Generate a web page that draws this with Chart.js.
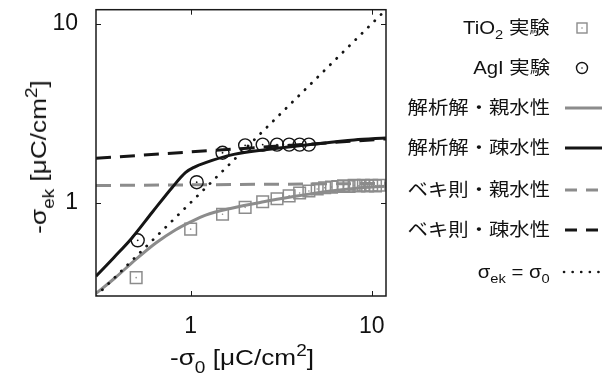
<!DOCTYPE html>
<html>
<head>
<meta charset="utf-8">
<script src="https://cdn.jsdelivr.net/npm/chart.js@4.4.0/dist/chart.umd.min.js"></script>
<style>
body { margin: 0; background: #fff; }
#wrap { position: relative; width: 609px; height: 383px; overflow: hidden;
  font-family: "Liberation Sans", Arial, "Noto Sans CJK JP", sans-serif; color: #111; }
#chart { position: absolute; left: 0; top: 0; }
.ttl { position: absolute; font-size: 22px; line-height: 22px; white-space: nowrap; }
.sb { font-size: 16px; position: relative; top: 8px; }
.sp { font-size: 16px; position: relative; top: -9px; }
.leg { position: absolute; right: 59px; font-size: 18px; line-height: 24px; white-space: nowrap;
  transform: scaleX(1.13); transform-origin: right center; }
.leg .sb { font-size: 13px; top: 5px; }
.sym { position: absolute; left: 560px; }
</style>
</head>
<body>
<div id="wrap">
  <canvas id="chart" width="609" height="383"></canvas>
  <div class="ttl" id="xtitle" style="left:242px; top:347px; transform: translateX(-50%) scaleX(1.19);">-σ<span class="sb">0</span> [μC/cm<span class="sp">2</span>]</div>
  <div class="ttl" id="ytitle" style="left:40px; top:157px; transform: translate(-50%, -50%) rotate(-90deg) scaleX(1.19);">-σ<span class="sb">ek</span> [μC/cm<span class="sp">2</span>]</div>
  <div id="legend"></div>
</div>
<script>
// ---- datos ----
var tickValues = [1, 10];

// TiO2 実験 (cuadrados)
var tio2X = [0.5, 1, 1.5, 2, 2.5, 3, 3.5, 4, 4.5, 5, 5.5, 6, 6.5, 7, 7.5, 8, 8.5, 9, 9.5, 10, 10.5, 11];
var tio2Y = [0.38, 0.71, 0.86, 0.94, 1.01, 1.05, 1.09, 1.13, 1.16, 1.19, 1.21, 1.22, 1.23, 1.24, 1.23, 1.25, 1.24, 1.25, 1.24, 1.25, 1.24, 1.25];

// AgI 実験 (círculos)
var agiX = [0.51, 1.08, 1.5, 2.0, 2.5, 3.0, 3.5, 4.0, 4.5];
var agiY = [0.615, 1.30, 1.90, 2.09, 2.11, 2.11, 2.11, 2.11, 2.11];

// 解析解・親水性
var anaPhilX = [0.3, 0.386, 0.498, 0.642, 0.827, 1.0, 1.21, 1.66, 2.53, 3.7, 5.5, 8, 12];
var anaPhilY = [0.31, 0.382, 0.481, 0.594, 0.705, 0.78, 0.851, 0.927, 1.01, 1.08, 1.15, 1.20, 1.235];

// 解析解・疎水性
var anaPhobX = [0.3, 0.377, 0.474, 0.615, 0.793, 0.939, 1.05, 1.21, 1.73, 2.64, 4.57, 8, 12];
var anaPhobY = [0.387, 0.493, 0.634, 0.885, 1.219, 1.474, 1.58, 1.674, 1.86, 1.98, 2.11, 2.24, 2.30];

// ベキ則
var powPhilX = [0.3, 12];
var powPhilY = [1.245, 1.28];
var powPhobX = [0.3, 12];
var powPhobY = [1.77, 2.27];

// σek = σ0
var diagX = [0.3, 12];
var diagY = [0.3, 12];

var legendLabels = [
    'TiO<span class="sb">2</span> 実験',
    'AgI 実験',
    '解析解・親水性',
    '解析解・疎水性',
    'ベキ則・親水性',
    'ベキ則・疎水性',
    'σ<span class="sb">ek</span> = σ<span class="sb">0</span>'
];
var legendRowsY = [28, 68, 108, 148, 190, 230, 272];

var GRAY = '#8c8c8c';
var BLACK = '#151515';

function toPoints(xs, ys) {
    return xs.map(function(x, i) { return {x: x, y: ys[i]}; });
}

// ---- leyenda en HTML ----
function buildLegend() {
    var box = document.getElementById('legend');
    var html = '';
    legendLabels.forEach(function(lbl, i) {
        html += '<div class="leg" style="top:' + (legendRowsY[i] - 12) + 'px">' + lbl + '</div>';
    });
    var y;
    // símbolos
    y = legendRowsY[0];
    html += '<svg class="sym" style="top:' + (y - 10) + 'px" width="44" height="20">' +
        '<rect x="17" y="5" width="10" height="10" fill="none" stroke="' + GRAY + '" stroke-width="1.4"/>' +
        '<circle cx="22" cy="10" r="0.8" fill="' + GRAY + '"/></svg>';
    y = legendRowsY[1];
    html += '<svg class="sym" style="top:' + (y - 10) + 'px" width="44" height="20">' +
        '<circle cx="22" cy="10" r="5.5" fill="none" stroke="' + BLACK + '" stroke-width="1.4"/>' +
        '<circle cx="22" cy="10" r="0.8" fill="' + BLACK + '"/></svg>';
    var lineSyms = [
        {row: 2, color: GRAY, dash: ''},
        {row: 3, color: BLACK, dash: ''},
        {row: 4, color: GRAY, dash: '12 9'},
        {row: 5, color: BLACK, dash: '12 9'}
    ];
    lineSyms.forEach(function(s) {
        y = legendRowsY[s.row];
        html += '<svg class="sym" style="top:' + (y - 10) + 'px" width="44" height="20">' +
            '<line x1="5" y1="10" x2="42" y2="10" stroke="' + s.color + '" stroke-width="3"' +
            (s.dash ? ' stroke-dasharray="' + s.dash + '"' : '') + '/></svg>';
    });
    y = legendRowsY[6];
    html += '<svg class="sym" style="top:' + (y - 10) + 'px" width="44" height="20">' +
        '<line x1="4" y1="10" x2="42" y2="10" stroke="' + BLACK + '" stroke-width="2.6" stroke-linecap="round" stroke-dasharray="0.1 8.5"/></svg>';
    box.innerHTML = html;
}

// marco y marcas interiores (estilo MATLAB)
var framePlugin = {
    id: 'frame',
    afterDatasetsDraw: function(chart) {
        var ctx = chart.ctx, a = chart.chartArea;
        var xs = chart.scales.x, ys = chart.scales.y;
        ctx.save();
        ctx.strokeStyle = '#1a1a1a';
        ctx.lineWidth = 1.5;
        ctx.strokeRect(a.left, a.top, a.right - a.left, a.bottom - a.top);
        ctx.lineWidth = 1;
        ctx.beginPath();
        tickValues.forEach(function(v) {
            var px = Math.round(xs.getPixelForValue(v)) + 0.5;
            var py = Math.round(ys.getPixelForValue(v)) + 0.5;
            ctx.moveTo(px, a.bottom); ctx.lineTo(px, a.bottom - 5);
            ctx.moveTo(px, a.top); ctx.lineTo(px, a.top + 5);
            ctx.moveTo(a.left, py); ctx.lineTo(a.left + 5, py);
            ctx.moveTo(a.right, py); ctx.lineTo(a.right - 5, py);
        });
        ctx.stroke();
        ctx.restore();
    }
};

var tickFont = { family: '"Liberation Sans", Arial, sans-serif', size: 23 };

function logAxis(extra) {
    var ax = {
        type: 'logarithmic',
        min: 0.3,
        max: 12,
        border: { display: false },
        grid: { display: false, drawTicks: false },
        afterBuildTicks: function(scale) {
            scale.ticks = tickValues.map(function(v) { return {value: v}; });
        }
    };
    Object.keys(extra).forEach(function(k) { ax[k] = extra[k]; });
    return ax;
}

buildLegend();

new Chart(document.getElementById('chart'), {
    type: 'line',
    data: {
        datasets: [
            {
                label: 'σek = σ0',
                data: toPoints(diagX, diagY),
                borderColor: BLACK,
                borderWidth: 2.8,
                borderDash: [0.1, 8.8],
                borderCapStyle: 'round',
                pointRadius: 0
            },
            {
                label: 'AgI 実験',
                data: toPoints(agiX, agiY),
                showLine: false,
                pointStyle: 'circle',
                pointRadius: 6.5,
                pointBorderWidth: 1.4,
                pointBorderColor: BLACK,
                pointBackgroundColor: 'rgba(0,0,0,0)'
            },
            {
                label: 'AgI centro',
                data: toPoints(agiX, agiY),
                showLine: false,
                pointRadius: 0.9,
                pointBorderWidth: 0,
                pointBackgroundColor: BLACK
            },
            {
                label: 'TiO2 実験',
                data: toPoints(tio2X, tio2Y),
                showLine: false,
                pointStyle: 'rect',
                pointRadius: 8.2,
                pointBorderWidth: 1.5,
                pointBorderColor: GRAY,
                pointBackgroundColor: 'rgba(0,0,0,0)'
            },
            {
                label: 'TiO2 centro',
                data: toPoints(tio2X, tio2Y),
                showLine: false,
                pointRadius: 0.8,
                pointBorderWidth: 0,
                pointBackgroundColor: GRAY
            },
            {
                label: '解析解・疎水性',
                data: toPoints(anaPhobX, anaPhobY),
                borderColor: BLACK,
                borderWidth: 3,
                cubicInterpolationMode: 'monotone',
                pointRadius: 0
            },
            {
                label: '解析解・親水性',
                data: toPoints(anaPhilX, anaPhilY),
                borderColor: GRAY,
                borderWidth: 3,
                cubicInterpolationMode: 'monotone',
                pointRadius: 0
            },
            {
                label: 'ベキ則・疎水性',
                data: toPoints(powPhobX, powPhobY),
                borderColor: BLACK,
                borderWidth: 3,
                borderDash: [15, 9],
                pointRadius: 0
            },
            {
                label: 'ベキ則・親水性',
                data: toPoints(powPhilX, powPhilY),
                borderColor: GRAY,
                borderWidth: 3,
                borderDash: [15, 9],
                pointRadius: 0
            }
        ]
    },
    options: {
        responsive: false,
        animation: false,
        layout: { padding: { left: 0, top: 6, right: 223, bottom: 0 } },
        plugins: {
            legend: { display: false },
            tooltip: { enabled: false }
        },
        scales: {
            x: logAxis({
                position: 'bottom',
                afterFit: function(scale) {
                    scale.height = 87;
                    scale.paddingLeft = 0;
                    scale.paddingRight = 0;
                },
                ticks: {
                    color: '#111',
                    padding: 17,
                    maxRotation: 0,
                    font: tickFont,
                    callback: function(v) { return String(v); }
                }
            }),
            y: logAxis({
                position: 'left',
                afterFit: function(scale) {
                    scale.width = 96;
                    scale.paddingTop = 0;
                    scale.paddingBottom = 0;
                },
                ticks: {
                    color: '#111',
                    padding: 18,
                    font: tickFont,
                    callback: function(v) { return String(v); }
                }
            })
        }
    },
    plugins: [framePlugin]
});
</script>
</body>
</html>
